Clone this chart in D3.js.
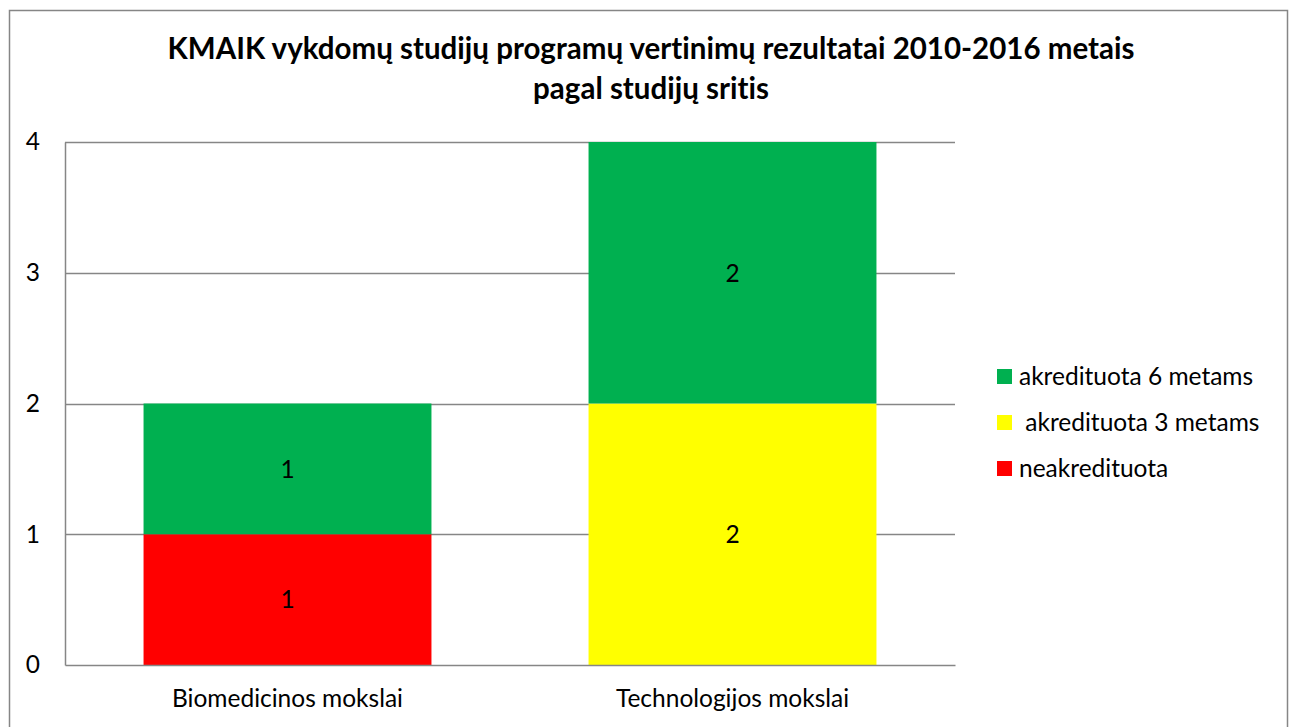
<!DOCTYPE html>
<html>
<head>
<meta charset="utf-8">
<script src="https://cdn.jsdelivr.net/npm/d3@7"></script>
<style>
  body { margin: 0; background: #fff; }
  text { font-family: Lato, "Open Sans", sans-serif; fill: #000; font-variant-ligatures: none; }
</style>
</head>
<body>
<div class="chart"></div>
<script>
var categories = ["Biomedicinos mokslai", "Technologijos mokslai"];
var seriesNames = ["neakredituota", " akredituota 3 metams", "akredituota 6 metams"];
var seriesColors = ["#ff0000", "#ffff00", "#00b050"];
var neakredituota = [1, 0];
var akredituota3 = [0, 2];
var akredituota6 = [1, 2];
var yTicks = [0, 1, 2, 3, 4];
var titleLines = ["KMAIK vykdomų studijų programų vertinimų rezultatai 2010-2016 metais", "pagal studijų sritis"];

var svgWidth = 1291;
var svgHeight = 727;
var margin = { top: 142, right: 336, bottom: 62, left: 65 };
var width = svgWidth - margin.left - margin.right;
var height = svgHeight - margin.top - margin.bottom;
var labelSize = "24.5px";

var svg = d3.select(".chart")
  .append("svg")
  .attr("width", svgWidth)
  .attr("height", svgHeight);

// outer chart border
svg.append("rect")
  .attr("x", 9.5).attr("y", 10.5)
  .attr("width", 1278).attr("height", 730)
  .attr("fill", "none")
  .attr("stroke", "#868686")
  .attr("stroke-width", 1.5);

// title
svg.append("g").selectAll("text")
  .data(titleLines)
  .enter().append("text")
    .attr("x", 651)
    .attr("y", function(d, i) { return 59 + i * 40; })
    .attr("text-anchor", "middle")
    .style("font-weight", "bold")
    .style("font-size", "29.5px")
    .text(function(d) { return d; });

var chart = svg.append("g")
  .attr("transform", "translate(" + margin.left + "," + margin.top + ")");

var data = categories.map(function(c, i) {
  return { cat: c, s0: neakredituota[i], s1: akredituota3[i], s2: akredituota6[i] };
});
var stack = d3.stack().keys(["s0", "s1", "s2"]);
var series = stack(data);

var xScale = d3.scaleBand()
  .domain(categories)
  .range([0, width])
  .paddingInner(0.353)
  .paddingOuter(0.1765);

var yScale = d3.scaleLinear()
  .domain([0, 4])
  .range([height, 0]);

// gridlines
chart.append("g").selectAll("line")
  .data(yTicks.slice(1))
  .enter().append("line")
    .attr("x1", 0).attr("x2", width)
    .attr("y1", function(d) { return Math.round(yScale(d)) + 0.5; })
    .attr("y2", function(d) { return Math.round(yScale(d)) + 0.5; })
    .attr("stroke", "#868686")
    .attr("stroke-width", 1.5);

// bars
var layers = chart.selectAll(".layer")
  .data(series)
  .enter().append("g")
    .attr("class", "layer")
    .attr("fill", function(d, i) { return seriesColors[i]; });

layers.selectAll("rect")
  .data(function(d) { return d; })
  .enter().append("rect")
    .attr("x", function(d) { return xScale(d.data.cat); })
    .attr("y", function(d) { return yScale(d[1]); })
    .attr("width", xScale.bandwidth())
    .attr("height", function(d) { return yScale(d[0]) - yScale(d[1]); });

// data labels
layers.selectAll("text")
  .data(function(d) { return d.filter(function(p) { return p[1] - p[0] > 0; }); })
  .enter().append("text")
    .attr("x", function(d) { return xScale(d.data.cat) + xScale.bandwidth() / 2; })
    .attr("y", function(d) { return (yScale(d[0]) + yScale(d[1])) / 2; })
    .attr("dy", "0.36em")
    .attr("text-anchor", "middle")
    .style("font-size", labelSize)
    .text(function(d) { return d[1] - d[0]; });

// axes
var leftAxis = d3.axisLeft(yScale).tickValues(yTicks).tickFormat(d3.format("d")).tickSize(0).tickPadding(25);
var bottomAxis = d3.axisBottom(xScale).tickSize(0).tickPadding(25);

var yAxisG = chart.append("g").call(leftAxis);
yAxisG.select(".domain").attr("stroke", "#868686").attr("stroke-width", 1.5);
yAxisG.selectAll("text").style("font-size", labelSize).style("font-family", "Lato, sans-serif");

var xAxisG = chart.append("g")
  .attr("transform", "translate(0," + height + ")")
  .call(bottomAxis);
xAxisG.select(".domain").attr("stroke", "#868686").attr("stroke-width", 1.5);
xAxisG.selectAll("text").style("font-size", labelSize).style("font-family", "Lato, sans-serif");

// legend
var legend = svg.append("g")
  .attr("transform", "translate(997,376)");
var legendOrder = [2, 1, 0];
var items = legend.selectAll("g")
  .data(legendOrder)
  .enter().append("g")
    .attr("transform", function(d, i) { return "translate(0," + (i * 46) + ")"; });
items.append("rect")
  .attr("x", 0).attr("y", -7)
  .attr("width", 15).attr("height", 15)
  .attr("fill", function(d) { return seriesColors[d]; });
items.append("text")
  .attr("x", 22).attr("y", 0)
  .attr("dy", "0.36em")
  .style("font-size", labelSize)
  .style("white-space", "pre")
  .attr("xml:space", "preserve")
  .text(function(d) { return seriesNames[d]; });
</script>
</body>
</html>
